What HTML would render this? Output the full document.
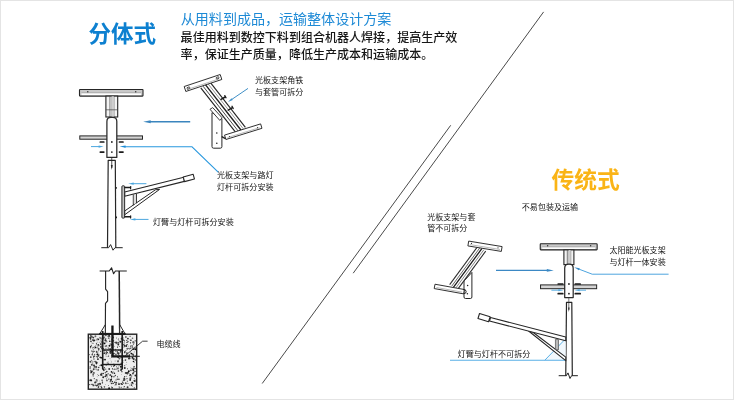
<!DOCTYPE html>
<html lang="zh">
<head>
<meta charset="utf-8">
<title>分体式 / 传统式</title>
<style>
html,body{margin:0;padding:0;background:#fff;}
body{width:734px;height:400px;overflow:hidden;position:relative;font-family:"Liberation Sans","Noto Sans CJK SC",sans-serif;}
#wrap{position:absolute;left:0;top:0;width:734px;height:400px;overflow:hidden;background:#fff;}
svg{position:absolute;left:0;top:0;display:block;}
svg text{font-family:"Liberation Sans","Noto Sans CJK SC",sans-serif;}
.t{position:absolute;white-space:nowrap;color:transparent;line-height:1.2;font-family:"Liberation Sans","Noto Sans CJK SC",sans-serif;pointer-events:none;}
</style>
</head>
<body>
<div id="wrap">
<div class="t" style="left:88.6px;top:20.4px;font-size:22.5px;font-weight:bold;">分体式</div><div class="t" style="left:180.8px;top:10.8px;font-size:14.04px;">从用料到成品，运输整体设计方案</div><div class="t" style="left:180.6px;top:30.5px;font-size:12.04px;">最佳用料到数控下料到组合机器人焊接，提高生产效</div><div class="t" style="left:180.6px;top:47.5px;font-size:12.04px;">率，保证生产质量，降低生产成本和运输成本。</div><div class="t" style="left:255.0px;top:75.7px;font-size:8.05px;">光板支架角铁</div><div class="t" style="left:255.0px;top:87.1px;font-size:8.05px;">与套管可拆分</div><div class="t" style="left:217.0px;top:170.0px;font-size:8.08px;">光板支架与路灯</div><div class="t" style="left:217.0px;top:181.8px;font-size:8.08px;">灯杆可拆分安装</div><div class="t" style="left:153.0px;top:217.2px;font-size:8.08px;">灯臂与灯杆可拆分安装</div><div class="t" style="left:156.4px;top:339.1px;font-size:8.1px;">电缆线</div><div class="t" style="left:551.6px;top:165.8px;font-size:22.7px;font-weight:bold;">传统式</div><div class="t" style="left:521.8px;top:202.7px;font-size:8.06px;">不易包装及运输</div><div class="t" style="left:427.2px;top:212.6px;font-size:8.05px;">光板支架与套</div><div class="t" style="left:427.2px;top:222.8px;font-size:8.05px;">管不可拆分</div><div class="t" style="left:609.4px;top:245.7px;font-size:8.06px;">太阳能光板支架</div><div class="t" style="left:609.4px;top:257.6px;font-size:8.06px;">与灯杆一体安装</div><div class="t" style="left:457.6px;top:349.0px;font-size:8.08px;">灯臂与灯杆不可拆分</div>
<svg width="734" height="400" viewBox="0 0 734 400">
<defs><filter id="soft" x="0" y="0" width="734" height="400" filterUnits="userSpaceOnUse"><feGaussianBlur stdDeviation="0.35"/></filter></defs>
<rect x="0" y="0" width="734" height="400" fill="#ffffff"/><rect x="0.5" y="0.5" width="733" height="399" fill="none" stroke="#e4e4e4" stroke-width="1"/>
<g filter="url(#soft)"><line x1="543.60" y1="11.90" x2="353.20" y2="273.20" stroke="#4a4a4a" stroke-width="1.0" stroke-linecap="butt"/><line x1="450.70" y1="125.30" x2="262.20" y2="383.50" stroke="#4a4a4a" stroke-width="1.0" stroke-linecap="butt"/><rect x="79.80" y="135.90" width="62.70" height="3.30" rx="0" fill="#d4d4d4" stroke="#262626" stroke-width="1.0"/><rect x="79.50" y="89.50" width="63.50" height="6.60" rx="0.6" fill="#c9c9c9" stroke="#262626" stroke-width="1.1"/><rect x="81.50" y="93.13" width="59.50" height="1.98" rx="0" fill="#ffffff" stroke="none" stroke-width="0"/><line x1="81.50" y1="92.80" x2="141.00" y2="92.80" stroke="#8a8a8a" stroke-width="0.5" stroke-linecap="butt"/><circle cx="87.75" cy="91.68" r="0.75" fill="#333"/><circle cx="135.70" cy="91.68" r="0.75" fill="#333"/><rect x="105.90" y="96.10" width="11.80" height="20.90" rx="0" fill="#f4f4f4" stroke="#262626" stroke-width="1.1"/><line x1="109.91" y1="96.10" x2="109.91" y2="117.00" stroke="#444" stroke-width="0.7" stroke-linecap="butt"/><line x1="111.80" y1="96.10" x2="111.80" y2="117.00" stroke="#777" stroke-width="0.6" stroke-linecap="butt"/><line x1="113.92" y1="96.10" x2="113.92" y2="117.00" stroke="#444" stroke-width="0.7" stroke-linecap="butt"/><rect x="111.80" y="96.30" width="2.12" height="20.50" rx="0" fill="#cfcfcf" stroke="none" stroke-width="0"/><line x1="105.90" y1="109.80" x2="117.70" y2="109.80" stroke="#444" stroke-width="0.7" stroke-linecap="butt"/><path d="M106.90 157.40 L106.90 121.40 Q106.90 117.40 110.90 117.40 L112.80 117.40 Q116.80 117.40 116.80 121.40 L116.80 157.40 Z" fill="#ffffff" stroke="#2a2a2a" stroke-width="1.25" stroke-linejoin="round"/><circle cx="111.85" cy="142.00" r="0.9" fill="#222"/><line x1="100.30" y1="142.00" x2="103.80" y2="142.00" stroke="#1e1e1e" stroke-width="1.7" stroke-linecap="round"/><line x1="119.50" y1="142.00" x2="123.00" y2="142.00" stroke="#1e1e1e" stroke-width="1.7" stroke-linecap="round"/><circle cx="111.85" cy="152.10" r="0.9" fill="#222"/><line x1="100.30" y1="152.10" x2="103.80" y2="152.10" stroke="#1e1e1e" stroke-width="1.7" stroke-linecap="round"/><line x1="119.50" y1="152.10" x2="123.00" y2="152.10" stroke="#1e1e1e" stroke-width="1.7" stroke-linecap="round"/><line x1="91.00" y1="146.60" x2="99.60" y2="146.60" stroke="#4aa6de" stroke-width="1.0" stroke-linecap="butt"/><polygon points="103.60,146.60 98.60,147.80 98.60,145.40" fill="#4aa6de"/><polyline points="124.00,146.70 191.80,146.70 218.20,172.20" fill="none" stroke="#2a98de" stroke-width="1.15" stroke-linejoin="round" stroke-linecap="butt"/><polygon points="119.60,146.60 125.60,145.40 125.60,147.80" fill="#1f8cd6"/><line x1="190.20" y1="121.80" x2="149.70" y2="121.80" stroke="#3a85be" stroke-width="1.4" stroke-linecap="butt"/><polygon points="143.20,121.80 150.70,120.30 150.70,123.30" fill="#3a85be"/><path d="M107.5 247.7 L108.2 160.3 L115.3 160.3 L115.8 247.7" fill="#ffffff" stroke="#262626" stroke-width="1.2" stroke-linejoin="round"/><line x1="111.75" y1="157.40" x2="111.75" y2="168.00" stroke="#222" stroke-width="0.8" stroke-linecap="butt"/><polygon points="111.75,170.00 110.80,165.00 112.70,165.00" fill="#222"/><polyline points="101.30,247.70 108.60,247.70 110.60,244.60 113.00,250.20 115.00,247.70 122.70,247.70" fill="none" stroke="#222" stroke-width="1.0" stroke-linejoin="round" stroke-linecap="butt"/><line x1="115.60" y1="187.80" x2="116.80" y2="187.80" stroke="#222" stroke-width="1.8" stroke-linecap="butt"/><line x1="115.80" y1="217.30" x2="117.00" y2="217.30" stroke="#222" stroke-width="1.8" stroke-linecap="butt"/><polygon points="124.65,211.00 155.40,189.80 159.60,189.40 124.65,214.80" fill="#ffffff" stroke="#262626" stroke-width="1.0" stroke-linejoin="round"/><line x1="133.30" y1="194.60" x2="133.30" y2="205.20" stroke="#262626" stroke-width="1.0" stroke-linecap="butt"/><line x1="136.40" y1="194.00" x2="136.40" y2="203.20" stroke="#262626" stroke-width="1.0" stroke-linecap="butt"/><rect x="133.80" y="194.60" width="2.10" height="9.00" rx="0" fill="#dddddd" stroke="none" stroke-width="0"/><polygon points="124.65,192.00 183.80,177.20 184.40,181.40 124.65,196.30" fill="#ffffff" stroke="#262626" stroke-width="1.1" stroke-linejoin="round"/><polygon points="184.47,181.62 194.42,178.97 193.18,174.33 183.23,176.98" fill="#ffffff" stroke="#262626" stroke-width="1.1" stroke-linejoin="round"/><rect x="121.90" y="185.80" width="2.75" height="32.30" rx="0.8" fill="#c4c4c4" stroke="#262626" stroke-width="1.0"/><line x1="125.00" y1="187.60" x2="130.40" y2="187.60" stroke="#1c1c1c" stroke-width="1.5" stroke-linecap="round"/><line x1="130.60" y1="186.60" x2="130.60" y2="188.80" stroke="#1c1c1c" stroke-width="1.2" stroke-linecap="round"/><line x1="125.00" y1="216.80" x2="130.40" y2="216.80" stroke="#1c1c1c" stroke-width="1.5" stroke-linecap="round"/><line x1="130.60" y1="215.80" x2="130.60" y2="218.00" stroke="#1c1c1c" stroke-width="1.2" stroke-linecap="round"/><line x1="146.40" y1="183.70" x2="132.70" y2="183.70" stroke="#4aa6de" stroke-width="1.0" stroke-linecap="butt"/><polygon points="128.20,183.70 133.70,182.55 133.70,184.85" fill="#4aa6de"/><line x1="148.50" y1="219.40" x2="134.40" y2="219.40" stroke="#4aa6de" stroke-width="1.0" stroke-linecap="butt"/><polygon points="129.90,219.40 135.40,218.25 135.40,220.55" fill="#4aa6de"/><path d="M212.0 112.6 L212.0 146.6 Q212.0 148.2 213.6 148.2 L220.3 148.2 Q221.9 148.2 221.9 146.6 L221.9 118.8 Z" fill="#ffffff" stroke="#262626" stroke-width="1.0" stroke-linejoin="round"/><circle cx="216.80" cy="133.00" r="0.8" fill="#222"/><circle cx="216.80" cy="143.30" r="0.8" fill="#222"/><polygon points="199.40,87.20 211.20,82.20 247.00,128.20 235.40,132.60" fill="#ffffff" stroke="none" stroke-width="0" stroke-linejoin="round"/><line x1="200.79" y1="87.85" x2="236.89" y2="133.95" stroke="#222" stroke-width="1.15" stroke-linecap="butt"/><line x1="203.00" y1="86.13" x2="239.10" y2="132.23" stroke="#333" stroke-width="0.9" stroke-linecap="butt"/><line x1="205.20" y1="84.40" x2="241.30" y2="130.50" stroke="#1c1c1c" stroke-width="1.35" stroke-linecap="butt"/><line x1="207.25" y1="82.80" x2="243.35" y2="128.90" stroke="#666" stroke-width="0.7" stroke-linecap="butt"/><line x1="209.29" y1="81.19" x2="245.39" y2="127.29" stroke="#222" stroke-width="1.1" stroke-linecap="butt"/><polygon points="210.00,109.30 212.70,107.60 222.20,117.90 219.80,120.40" fill="#ffffff" stroke="#262626" stroke-width="0.9" stroke-linejoin="round"/><line x1="221.00" y1="99.40" x2="225.20" y2="97.00" stroke="#1c1c1c" stroke-width="1.5" stroke-linecap="round"/><line x1="224.80" y1="95.60" x2="226.00" y2="97.80" stroke="#1c1c1c" stroke-width="1.3" stroke-linecap="round"/><line x1="228.20" y1="110.10" x2="232.40" y2="107.70" stroke="#1c1c1c" stroke-width="1.5" stroke-linecap="round"/><line x1="232.00" y1="106.30" x2="233.20" y2="108.50" stroke="#1c1c1c" stroke-width="1.3" stroke-linecap="round"/><polygon points="185.82,91.47 221.82,79.47 220.18,74.53 184.18,86.53" fill="#ffffff" stroke="#262626" stroke-width="0.95" stroke-linejoin="round"/><line x1="187.00" y1="89.60" x2="219.00" y2="78.90" stroke="#777" stroke-width="0.5" stroke-linecap="butt"/><ellipse cx="217.6" cy="77.9" rx="1.5" ry="0.9" transform="rotate(-18 217.6 77.9)" fill="#fff" stroke="#222" stroke-width="0.8"/><ellipse cx="188.4" cy="88.0" rx="1.5" ry="0.9" transform="rotate(-18 188.4 88.0)" fill="#fff" stroke="#222" stroke-width="0.8"/><polygon points="225.88,139.50 261.98,128.30 260.62,123.90 224.52,135.10" fill="#ffffff" stroke="#262626" stroke-width="0.95" stroke-linejoin="round"/><line x1="227.50" y1="137.60" x2="259.50" y2="127.70" stroke="#777" stroke-width="0.5" stroke-linecap="butt"/><circle cx="229.50" cy="136.60" r="0.6" fill="#333"/><circle cx="257.50" cy="127.60" r="0.6" fill="#333"/><line x1="222.20" y1="136.80" x2="225.00" y2="138.40" stroke="#222" stroke-width="1.4" stroke-linecap="round"/><line x1="248.00" y1="88.40" x2="231.31" y2="99.75" stroke="#3f8fc6" stroke-width="1.0" stroke-linecap="butt"/><polygon points="228.00,102.00 231.52,98.28 232.75,100.10" fill="#3f8fc6"/><polyline points="105.60,271.00 105.60,289.20 107.60,291.60 107.60,300.80 105.50,303.40 105.30,334.00" fill="none" stroke="#262626" stroke-width="1.15" stroke-linejoin="round" stroke-linecap="butt"/><line x1="119.20" y1="271.00" x2="119.70" y2="334.00" stroke="#262626" stroke-width="1.5" stroke-linecap="butt"/><polyline points="99.60,271.00 109.20,271.00 111.60,267.80 113.60,273.80 115.40,271.00 126.80,271.00" fill="none" stroke="#222" stroke-width="1.1" stroke-linejoin="round" stroke-linecap="butt"/><rect x="88.30" y="334.20" width="48.40" height="55.00" rx="0" fill="#eeeeee" stroke="#222" stroke-width="1.4"/><circle cx="104.4" cy="343.4" r="0.95" fill="#111"/><circle cx="92.7" cy="363.7" r="0.55" fill="#666"/><circle cx="92.1" cy="362.2" r="0.35" fill="#111"/><circle cx="109.4" cy="339.1" r="0.35" fill="#666"/><circle cx="109.0" cy="379.1" r="0.35" fill="#222"/><circle cx="118.5" cy="366.2" r="0.35" fill="#666"/><circle cx="116.5" cy="338.0" r="0.45" fill="#111"/><circle cx="115.1" cy="342.4" r="0.65" fill="#222"/><circle cx="114.4" cy="365.5" r="0.8" fill="#222"/><circle cx="94.2" cy="365.6" r="0.45" fill="#333"/><circle cx="93.9" cy="373.0" r="0.8" fill="#111"/><circle cx="118.0" cy="361.6" r="0.8" fill="#444"/><circle cx="125.3" cy="360.0" r="0.65" fill="#333"/><circle cx="103.2" cy="377.3" r="0.95" fill="#222"/><circle cx="93.2" cy="351.3" r="0.65" fill="#333"/><circle cx="123.1" cy="350.6" r="0.35" fill="#111"/><circle cx="113.1" cy="344.1" r="0.55" fill="#222"/><circle cx="132.5" cy="357.7" r="0.95" fill="#111"/><circle cx="124.7" cy="365.7" r="0.55" fill="#333"/><circle cx="121.5" cy="366.8" r="0.8" fill="#444"/><circle cx="92.6" cy="340.3" r="0.55" fill="#444"/><circle cx="121.6" cy="338.8" r="0.95" fill="#333"/><circle cx="119.3" cy="387.8" r="0.65" fill="#333"/><circle cx="122.5" cy="382.2" r="0.55" fill="#111"/><circle cx="132.9" cy="354.2" r="0.8" fill="#111"/><circle cx="112.2" cy="346.9" r="0.55" fill="#222"/><circle cx="123.5" cy="356.4" r="0.65" fill="#111"/><circle cx="97.1" cy="356.6" r="0.55" fill="#222"/><circle cx="127.3" cy="381.0" r="0.55" fill="#444"/><circle cx="135.0" cy="371.4" r="0.65" fill="#222"/><circle cx="96.4" cy="344.7" r="0.45" fill="#222"/><circle cx="90.0" cy="379.3" r="0.45" fill="#333"/><circle cx="102.4" cy="343.1" r="0.8" fill="#333"/><circle cx="117.6" cy="352.2" r="0.45" fill="#666"/><circle cx="133.3" cy="370.0" r="0.95" fill="#111"/><circle cx="110.5" cy="381.4" r="0.95" fill="#666"/><circle cx="107.5" cy="356.5" r="0.35" fill="#444"/><circle cx="118.7" cy="338.7" r="0.35" fill="#222"/><circle cx="109.8" cy="341.2" r="0.8" fill="#111"/><circle cx="94.1" cy="365.3" r="0.8" fill="#111"/><circle cx="133.2" cy="367.8" r="0.35" fill="#222"/><circle cx="117.8" cy="343.2" r="0.55" fill="#333"/><circle cx="117.2" cy="360.4" r="0.35" fill="#444"/><circle cx="135.3" cy="360.0" r="0.65" fill="#333"/><circle cx="93.4" cy="340.8" r="0.55" fill="#333"/><circle cx="111.5" cy="371.9" r="0.8" fill="#111"/><circle cx="98.9" cy="385.7" r="0.55" fill="#222"/><circle cx="121.3" cy="383.7" r="0.8" fill="#333"/><circle cx="134.6" cy="381.0" r="0.95" fill="#333"/><circle cx="113.3" cy="383.4" r="0.55" fill="#222"/><circle cx="114.0" cy="376.5" r="0.55" fill="#222"/><circle cx="117.7" cy="377.0" r="0.45" fill="#222"/><circle cx="127.2" cy="374.5" r="0.45" fill="#222"/><circle cx="113.3" cy="354.2" r="0.35" fill="#111"/><circle cx="125.9" cy="360.3" r="0.45" fill="#666"/><circle cx="133.6" cy="359.0" r="0.95" fill="#333"/><circle cx="133.5" cy="354.7" r="0.45" fill="#111"/><circle cx="99.9" cy="345.8" r="0.45" fill="#444"/><circle cx="118.2" cy="382.9" r="0.35" fill="#444"/><circle cx="131.4" cy="353.6" r="0.95" fill="#111"/><circle cx="128.0" cy="341.7" r="0.65" fill="#222"/><circle cx="111.5" cy="344.8" r="0.95" fill="#333"/><circle cx="93.4" cy="385.4" r="0.95" fill="#444"/><circle cx="110.8" cy="374.6" r="0.35" fill="#222"/><circle cx="97.3" cy="342.1" r="0.45" fill="#666"/><circle cx="131.2" cy="378.0" r="0.45" fill="#666"/><circle cx="127.6" cy="387.2" r="0.95" fill="#333"/><circle cx="96.6" cy="364.3" r="0.35" fill="#111"/><circle cx="126.3" cy="373.8" r="0.35" fill="#666"/><circle cx="124.0" cy="342.8" r="0.45" fill="#222"/><circle cx="90.7" cy="346.6" r="0.8" fill="#222"/><circle cx="124.7" cy="352.6" r="0.8" fill="#444"/><circle cx="127.9" cy="338.6" r="0.95" fill="#333"/><circle cx="130.9" cy="370.4" r="0.8" fill="#444"/><circle cx="127.6" cy="381.8" r="0.45" fill="#666"/><circle cx="96.4" cy="362.4" r="0.65" fill="#222"/><circle cx="117.5" cy="376.4" r="0.45" fill="#222"/><circle cx="95.9" cy="368.1" r="0.35" fill="#666"/><circle cx="92.3" cy="371.4" r="0.8" fill="#666"/><circle cx="111.7" cy="376.4" r="0.8" fill="#111"/><circle cx="100.9" cy="350.0" r="0.35" fill="#666"/><circle cx="110.3" cy="336.9" r="0.35" fill="#444"/><circle cx="104.4" cy="386.8" r="0.8" fill="#666"/><circle cx="98.6" cy="350.0" r="0.8" fill="#666"/><circle cx="126.7" cy="362.2" r="0.45" fill="#666"/><circle cx="129.9" cy="385.1" r="0.55" fill="#666"/><circle cx="130.6" cy="346.1" r="0.65" fill="#222"/><circle cx="108.6" cy="356.1" r="0.55" fill="#111"/><circle cx="120.4" cy="358.0" r="0.45" fill="#333"/><circle cx="125.6" cy="382.8" r="0.45" fill="#333"/><circle cx="96.0" cy="382.0" r="0.65" fill="#222"/><circle cx="123.9" cy="340.4" r="0.65" fill="#222"/><circle cx="135.1" cy="379.4" r="0.45" fill="#444"/><circle cx="135.3" cy="356.7" r="0.65" fill="#222"/><circle cx="105.9" cy="340.3" r="0.55" fill="#111"/><circle cx="105.0" cy="359.6" r="0.95" fill="#111"/><circle cx="107.2" cy="362.7" r="0.55" fill="#666"/><circle cx="133.8" cy="341.4" r="0.45" fill="#111"/><circle cx="93.3" cy="349.8" r="0.45" fill="#333"/><circle cx="124.3" cy="378.7" r="0.95" fill="#333"/><circle cx="108.2" cy="363.7" r="0.8" fill="#666"/><circle cx="112.3" cy="352.7" r="0.55" fill="#111"/><circle cx="126.3" cy="345.1" r="0.35" fill="#333"/><circle cx="132.8" cy="368.9" r="0.55" fill="#111"/><circle cx="117.5" cy="347.1" r="0.55" fill="#111"/><circle cx="110.4" cy="353.3" r="0.8" fill="#444"/><circle cx="132.2" cy="349.5" r="0.45" fill="#111"/><circle cx="113.7" cy="348.0" r="0.35" fill="#222"/><circle cx="101.5" cy="345.0" r="0.55" fill="#333"/><circle cx="113.9" cy="346.3" r="0.65" fill="#666"/><circle cx="120.5" cy="349.7" r="0.35" fill="#333"/><circle cx="91.1" cy="336.4" r="0.8" fill="#666"/><circle cx="134.6" cy="362.6" r="0.45" fill="#444"/><circle cx="94.3" cy="378.6" r="0.65" fill="#444"/><circle cx="114.6" cy="382.3" r="0.8" fill="#333"/><circle cx="121.2" cy="387.3" r="0.55" fill="#222"/><circle cx="127.9" cy="372.7" r="0.95" fill="#222"/><circle cx="108.1" cy="353.8" r="0.35" fill="#222"/><circle cx="90.1" cy="368.4" r="0.55" fill="#444"/><circle cx="96.9" cy="339.9" r="0.65" fill="#666"/><circle cx="120.4" cy="350.3" r="0.45" fill="#333"/><circle cx="91.5" cy="345.2" r="0.55" fill="#444"/><circle cx="89.6" cy="354.6" r="0.55" fill="#666"/><circle cx="104.3" cy="337.2" r="0.55" fill="#222"/><circle cx="105.9" cy="335.5" r="0.65" fill="#111"/><circle cx="111.3" cy="361.9" r="0.45" fill="#222"/><circle cx="112.7" cy="335.7" r="0.55" fill="#111"/><circle cx="96.0" cy="366.4" r="0.65" fill="#111"/><circle cx="103.2" cy="368.6" r="0.35" fill="#666"/><circle cx="133.6" cy="380.5" r="0.45" fill="#666"/><circle cx="107.4" cy="352.6" r="0.65" fill="#222"/><circle cx="102.5" cy="368.1" r="0.45" fill="#111"/><circle cx="127.5" cy="373.2" r="0.8" fill="#444"/><circle cx="123.3" cy="378.3" r="0.45" fill="#666"/><circle cx="124.2" cy="365.4" r="0.35" fill="#666"/><circle cx="126.3" cy="373.0" r="0.95" fill="#222"/><circle cx="93.3" cy="337.6" r="0.95" fill="#333"/><circle cx="133.7" cy="355.3" r="0.65" fill="#666"/><circle cx="91.7" cy="336.4" r="0.8" fill="#222"/><circle cx="112.0" cy="335.6" r="0.35" fill="#666"/><circle cx="130.9" cy="340.3" r="0.8" fill="#111"/><circle cx="123.9" cy="360.4" r="0.35" fill="#333"/><circle cx="100.2" cy="375.3" r="0.45" fill="#444"/><circle cx="112.2" cy="355.6" r="0.65" fill="#333"/><circle cx="124.8" cy="368.0" r="0.95" fill="#222"/><circle cx="93.0" cy="343.2" r="0.55" fill="#333"/><circle cx="118.1" cy="342.4" r="0.65" fill="#111"/><circle cx="111.8" cy="386.7" r="0.35" fill="#222"/><circle cx="120.6" cy="350.8" r="0.8" fill="#333"/><circle cx="110.9" cy="360.0" r="0.35" fill="#666"/><circle cx="98.6" cy="387.0" r="0.65" fill="#111"/><circle cx="102.8" cy="339.4" r="0.8" fill="#444"/><circle cx="135.3" cy="355.8" r="0.45" fill="#111"/><circle cx="116.3" cy="342.9" r="0.8" fill="#333"/><circle cx="133.4" cy="342.4" r="0.95" fill="#666"/><circle cx="102.3" cy="341.3" r="0.55" fill="#222"/><circle cx="112.4" cy="381.7" r="0.65" fill="#111"/><circle cx="96.7" cy="385.6" r="0.95" fill="#444"/><circle cx="108.1" cy="373.8" r="0.65" fill="#333"/><circle cx="106.8" cy="341.8" r="0.55" fill="#111"/><circle cx="104.4" cy="353.3" r="0.65" fill="#111"/><circle cx="132.8" cy="345.7" r="0.35" fill="#333"/><circle cx="101.1" cy="338.8" r="0.65" fill="#666"/><circle cx="92.9" cy="384.3" r="0.55" fill="#111"/><circle cx="102.4" cy="338.1" r="0.95" fill="#333"/><circle cx="118.7" cy="343.3" r="0.55" fill="#444"/><circle cx="113.0" cy="345.4" r="0.55" fill="#444"/><circle cx="130.3" cy="378.3" r="0.95" fill="#444"/><circle cx="131.6" cy="385.1" r="0.8" fill="#222"/><circle cx="122.6" cy="338.0" r="0.95" fill="#444"/><circle cx="110.2" cy="375.1" r="0.95" fill="#333"/><circle cx="111.8" cy="383.5" r="0.8" fill="#222"/><circle cx="97.3" cy="357.3" r="0.55" fill="#333"/><circle cx="101.2" cy="374.4" r="0.95" fill="#333"/><circle cx="108.2" cy="348.0" r="0.65" fill="#666"/><circle cx="120.3" cy="341.7" r="0.95" fill="#222"/><circle cx="92.9" cy="361.8" r="0.65" fill="#666"/><circle cx="99.6" cy="383.3" r="0.65" fill="#444"/><circle cx="95.8" cy="345.6" r="0.35" fill="#222"/><circle cx="105.2" cy="340.2" r="0.45" fill="#333"/><circle cx="101.3" cy="365.5" r="0.35" fill="#444"/><circle cx="107.1" cy="374.8" r="0.45" fill="#444"/><circle cx="101.9" cy="375.1" r="0.65" fill="#333"/><circle cx="115.9" cy="354.4" r="0.95" fill="#666"/><circle cx="113.9" cy="377.1" r="0.45" fill="#111"/><circle cx="101.9" cy="348.5" r="0.65" fill="#444"/><circle cx="109.4" cy="351.9" r="0.35" fill="#222"/><circle cx="90.9" cy="372.9" r="0.65" fill="#666"/><circle cx="112.0" cy="339.3" r="0.8" fill="#444"/><circle cx="134.3" cy="348.5" r="0.35" fill="#222"/><circle cx="96.5" cy="363.0" r="0.95" fill="#111"/><circle cx="132.9" cy="373.5" r="0.95" fill="#444"/><circle cx="93.3" cy="376.4" r="0.35" fill="#222"/><circle cx="100.1" cy="384.0" r="0.95" fill="#333"/><circle cx="133.9" cy="368.5" r="0.8" fill="#444"/><circle cx="121.7" cy="341.3" r="0.35" fill="#333"/><circle cx="113.6" cy="366.2" r="0.65" fill="#333"/><circle cx="99.7" cy="367.1" r="0.35" fill="#666"/><circle cx="103.3" cy="359.7" r="0.55" fill="#222"/><circle cx="111.4" cy="347.8" r="0.45" fill="#111"/><circle cx="133.8" cy="372.6" r="0.55" fill="#111"/><circle cx="90.4" cy="361.7" r="0.95" fill="#444"/><circle cx="93.1" cy="347.4" r="0.65" fill="#333"/><circle cx="99.9" cy="337.2" r="0.55" fill="#444"/><circle cx="106.1" cy="356.3" r="0.35" fill="#333"/><circle cx="123.5" cy="362.1" r="0.45" fill="#444"/><circle cx="134.2" cy="351.9" r="0.45" fill="#222"/><circle cx="110.9" cy="349.4" r="0.55" fill="#111"/><circle cx="133.4" cy="361.6" r="0.45" fill="#222"/><circle cx="111.8" cy="383.5" r="0.35" fill="#666"/><circle cx="96.2" cy="356.2" r="0.45" fill="#111"/><circle cx="134.4" cy="342.9" r="0.35" fill="#111"/><circle cx="97.9" cy="359.1" r="0.95" fill="#333"/><circle cx="123.3" cy="388.1" r="0.45" fill="#333"/><circle cx="98.2" cy="369.9" r="0.8" fill="#444"/><circle cx="90.9" cy="370.5" r="0.65" fill="#333"/><circle cx="134.9" cy="358.8" r="0.35" fill="#111"/><circle cx="93.0" cy="339.7" r="0.65" fill="#111"/><circle cx="115.3" cy="375.5" r="0.65" fill="#333"/><circle cx="124.9" cy="351.7" r="0.65" fill="#111"/><circle cx="91.7" cy="360.4" r="0.55" fill="#666"/><circle cx="131.9" cy="345.6" r="0.55" fill="#444"/><circle cx="90.8" cy="357.1" r="0.95" fill="#444"/><circle cx="91.3" cy="337.2" r="0.35" fill="#111"/><circle cx="101.3" cy="374.9" r="0.8" fill="#333"/><circle cx="106.2" cy="353.1" r="0.8" fill="#111"/><circle cx="101.5" cy="373.2" r="0.55" fill="#333"/><circle cx="103.1" cy="373.5" r="0.8" fill="#111"/><circle cx="90.5" cy="347.7" r="0.65" fill="#444"/><circle cx="133.5" cy="355.8" r="0.55" fill="#444"/><circle cx="127.0" cy="342.4" r="0.65" fill="#222"/><circle cx="89.8" cy="384.6" r="0.55" fill="#222"/><circle cx="117.5" cy="352.7" r="0.55" fill="#444"/><circle cx="106.1" cy="376.7" r="0.35" fill="#666"/><circle cx="98.5" cy="375.2" r="0.45" fill="#444"/><circle cx="92.4" cy="337.2" r="0.8" fill="#666"/><circle cx="104.5" cy="387.2" r="0.35" fill="#111"/><circle cx="101.6" cy="339.8" r="0.35" fill="#444"/><circle cx="112.4" cy="372.9" r="0.65" fill="#222"/><circle cx="100.2" cy="357.4" r="0.8" fill="#222"/><circle cx="124.0" cy="380.1" r="0.95" fill="#111"/><circle cx="125.4" cy="350.9" r="0.55" fill="#666"/><circle cx="101.8" cy="348.8" r="0.55" fill="#222"/><circle cx="109.7" cy="345.2" r="0.45" fill="#222"/><circle cx="102.4" cy="383.3" r="0.45" fill="#333"/><circle cx="92.4" cy="348.7" r="0.45" fill="#666"/><circle cx="113.7" cy="369.7" r="0.35" fill="#444"/><circle cx="135.2" cy="340.8" r="0.65" fill="#222"/><circle cx="128.2" cy="383.7" r="0.35" fill="#333"/><circle cx="100.2" cy="338.1" r="0.8" fill="#666"/><circle cx="98.4" cy="339.4" r="0.8" fill="#222"/><circle cx="110.1" cy="349.1" r="0.95" fill="#111"/><circle cx="94.3" cy="366.9" r="0.8" fill="#333"/><circle cx="99.5" cy="354.9" r="0.45" fill="#111"/><circle cx="98.8" cy="348.9" r="0.8" fill="#222"/><circle cx="127.0" cy="378.6" r="0.65" fill="#333"/><circle cx="98.0" cy="351.9" r="0.45" fill="#111"/><circle cx="126.1" cy="364.3" r="0.35" fill="#444"/><circle cx="94.1" cy="356.3" r="0.8" fill="#222"/><circle cx="118.9" cy="340.2" r="0.45" fill="#444"/><circle cx="121.5" cy="357.0" r="0.55" fill="#333"/><circle cx="108.7" cy="338.1" r="0.95" fill="#666"/><circle cx="130.2" cy="357.3" r="0.35" fill="#333"/><circle cx="119.2" cy="356.0" r="0.65" fill="#222"/><circle cx="132.9" cy="358.3" r="0.45" fill="#444"/><circle cx="94.6" cy="340.2" r="0.8" fill="#333"/><circle cx="110.7" cy="344.0" r="0.35" fill="#111"/><circle cx="114.9" cy="369.2" r="0.65" fill="#111"/><circle cx="115.9" cy="384.4" r="0.95" fill="#666"/><circle cx="97.3" cy="353.8" r="0.45" fill="#666"/><circle cx="97.3" cy="338.9" r="0.65" fill="#444"/><circle cx="124.2" cy="377.2" r="0.45" fill="#333"/><circle cx="95.3" cy="385.2" r="0.65" fill="#333"/><circle cx="91.9" cy="384.3" r="0.65" fill="#111"/><circle cx="131.2" cy="368.2" r="0.45" fill="#222"/><circle cx="118.1" cy="367.9" r="0.45" fill="#444"/><circle cx="97.9" cy="346.9" r="0.65" fill="#666"/><circle cx="96.6" cy="354.4" r="0.45" fill="#222"/><circle cx="134.2" cy="378.5" r="0.45" fill="#111"/><circle cx="130.2" cy="379.9" r="0.95" fill="#111"/><circle cx="120.3" cy="352.5" r="0.65" fill="#666"/><circle cx="110.5" cy="380.2" r="0.55" fill="#444"/><circle cx="103.6" cy="348.6" r="0.65" fill="#333"/><circle cx="110.0" cy="358.5" r="0.35" fill="#111"/><circle cx="118.0" cy="361.2" r="0.45" fill="#444"/><circle cx="124.7" cy="376.6" r="0.65" fill="#222"/><circle cx="126.8" cy="356.5" r="0.35" fill="#222"/><circle cx="106.0" cy="354.7" r="0.65" fill="#666"/><circle cx="113.0" cy="337.6" r="0.95" fill="#222"/><circle cx="93.2" cy="374.1" r="0.95" fill="#666"/><circle cx="93.1" cy="375.1" r="0.65" fill="#222"/><circle cx="90.6" cy="338.9" r="0.8" fill="#111"/><circle cx="98.3" cy="387.2" r="0.65" fill="#333"/><circle cx="133.6" cy="383.8" r="0.45" fill="#222"/><circle cx="92.4" cy="353.9" r="0.55" fill="#222"/><circle cx="104.4" cy="367.8" r="0.65" fill="#222"/><circle cx="101.1" cy="386.3" r="0.65" fill="#222"/><circle cx="116.7" cy="367.9" r="0.45" fill="#333"/><circle cx="106.6" cy="345.9" r="0.65" fill="#222"/><circle cx="118.8" cy="350.1" r="0.55" fill="#444"/><circle cx="97.2" cy="376.8" r="0.35" fill="#666"/><circle cx="91.6" cy="380.7" r="0.65" fill="#666"/><circle cx="113.5" cy="371.8" r="0.35" fill="#333"/><circle cx="135.3" cy="368.7" r="0.65" fill="#333"/><circle cx="101.6" cy="387.7" r="0.8" fill="#222"/><circle cx="106.0" cy="375.8" r="0.65" fill="#222"/><circle cx="97.6" cy="374.7" r="0.35" fill="#333"/><circle cx="127.3" cy="348.8" r="0.95" fill="#666"/><circle cx="132.3" cy="382.7" r="0.95" fill="#111"/><circle cx="123.9" cy="347.1" r="0.55" fill="#666"/><circle cx="118.3" cy="357.5" r="0.55" fill="#111"/><circle cx="95.5" cy="347.4" r="0.95" fill="#111"/><circle cx="90.4" cy="335.5" r="0.55" fill="#333"/><circle cx="94.3" cy="354.3" r="0.45" fill="#444"/><circle cx="116.4" cy="366.5" r="0.45" fill="#333"/><circle cx="118.2" cy="360.5" r="0.45" fill="#111"/><circle cx="132.7" cy="348.3" r="0.45" fill="#444"/><circle cx="93.8" cy="369.1" r="0.95" fill="#333"/><circle cx="108.0" cy="349.4" r="0.35" fill="#111"/><circle cx="119.2" cy="365.1" r="0.55" fill="#666"/><circle cx="119.2" cy="358.8" r="0.8" fill="#444"/><circle cx="100.9" cy="383.1" r="0.35" fill="#111"/><circle cx="114.0" cy="356.8" r="0.45" fill="#222"/><circle cx="92.1" cy="376.5" r="0.35" fill="#666"/><circle cx="114.9" cy="385.1" r="0.45" fill="#444"/><circle cx="98.6" cy="367.5" r="0.8" fill="#444"/><circle cx="127.0" cy="344.6" r="0.55" fill="#111"/><circle cx="103.3" cy="338.0" r="0.95" fill="#444"/><circle cx="122.5" cy="335.7" r="0.65" fill="#444"/><circle cx="93.1" cy="370.0" r="0.45" fill="#222"/><circle cx="135.4" cy="349.2" r="0.95" fill="#111"/><circle cx="95.1" cy="382.5" r="0.95" fill="#333"/><circle cx="122.3" cy="349.4" r="0.8" fill="#444"/><circle cx="121.1" cy="383.8" r="0.55" fill="#333"/><circle cx="119.1" cy="386.4" r="0.45" fill="#111"/><circle cx="130.1" cy="336.2" r="0.55" fill="#222"/><circle cx="128.3" cy="346.1" r="0.45" fill="#333"/><circle cx="98.3" cy="355.9" r="0.8" fill="#222"/><circle cx="106.9" cy="380.4" r="0.95" fill="#666"/><circle cx="111.1" cy="379.7" r="0.95" fill="#111"/><circle cx="129.0" cy="358.5" r="0.95" fill="#222"/><circle cx="115.7" cy="351.6" r="0.45" fill="#444"/><circle cx="118.2" cy="339.5" r="0.45" fill="#222"/><circle cx="90.9" cy="341.3" r="0.8" fill="#222"/><circle cx="105.3" cy="342.9" r="0.35" fill="#111"/><circle cx="91.3" cy="372.0" r="0.95" fill="#111"/><circle cx="121.6" cy="374.3" r="0.35" fill="#666"/><circle cx="124.6" cy="345.9" r="0.8" fill="#111"/><circle cx="130.0" cy="375.3" r="0.95" fill="#444"/><circle cx="94.3" cy="346.3" r="0.35" fill="#111"/><circle cx="91.0" cy="380.2" r="0.95" fill="#111"/><circle cx="127.5" cy="368.7" r="0.55" fill="#444"/><circle cx="94.0" cy="340.6" r="0.95" fill="#222"/><circle cx="103.0" cy="353.2" r="0.55" fill="#111"/><circle cx="105.6" cy="384.5" r="0.35" fill="#333"/><circle cx="131.5" cy="376.0" r="0.8" fill="#666"/><circle cx="111.4" cy="350.6" r="0.95" fill="#111"/><circle cx="125.9" cy="337.0" r="0.8" fill="#111"/><circle cx="105.4" cy="372.6" r="0.8" fill="#666"/><circle cx="99.4" cy="380.9" r="0.35" fill="#666"/><circle cx="127.3" cy="344.4" r="0.35" fill="#666"/><circle cx="98.7" cy="375.6" r="0.35" fill="#111"/><circle cx="105.5" cy="340.5" r="0.95" fill="#222"/><circle cx="134.1" cy="366.7" r="0.8" fill="#333"/><circle cx="116.1" cy="343.8" r="0.45" fill="#222"/><circle cx="112.4" cy="341.2" r="0.95" fill="#111"/><circle cx="112.1" cy="387.7" r="0.8" fill="#111"/><circle cx="118.4" cy="354.2" r="0.65" fill="#444"/><circle cx="130.6" cy="374.7" r="0.65" fill="#111"/><circle cx="106.6" cy="351.4" r="0.65" fill="#666"/><circle cx="112.6" cy="355.4" r="0.95" fill="#222"/><circle cx="133.0" cy="342.1" r="0.8" fill="#666"/><circle cx="119.3" cy="353.8" r="0.55" fill="#666"/><circle cx="96.6" cy="379.9" r="0.95" fill="#666"/><circle cx="123.7" cy="344.4" r="0.65" fill="#333"/><circle cx="116.2" cy="342.1" r="0.65" fill="#222"/><circle cx="112.9" cy="349.5" r="0.95" fill="#666"/><circle cx="96.5" cy="343.6" r="0.45" fill="#333"/><circle cx="117.3" cy="353.8" r="0.45" fill="#333"/><circle cx="133.6" cy="349.1" r="0.95" fill="#111"/><circle cx="97.0" cy="370.1" r="0.45" fill="#444"/><circle cx="96.4" cy="343.2" r="0.55" fill="#333"/><circle cx="109.5" cy="345.8" r="0.95" fill="#111"/><circle cx="102.4" cy="382.1" r="0.65" fill="#111"/><circle cx="90.0" cy="380.5" r="0.65" fill="#222"/><circle cx="112.5" cy="368.8" r="0.65" fill="#111"/><circle cx="96.0" cy="367.3" r="0.65" fill="#111"/><circle cx="123.6" cy="383.3" r="0.65" fill="#666"/><circle cx="116.5" cy="369.6" r="0.45" fill="#666"/><circle cx="128.8" cy="371.3" r="0.95" fill="#111"/><circle cx="110.4" cy="351.9" r="0.95" fill="#111"/><circle cx="130.7" cy="348.2" r="0.65" fill="#222"/><circle cx="101.0" cy="357.8" r="0.65" fill="#111"/><circle cx="118.1" cy="357.0" r="0.95" fill="#222"/><circle cx="130.7" cy="352.7" r="0.35" fill="#444"/><circle cx="127.8" cy="383.4" r="0.35" fill="#111"/><circle cx="101.0" cy="346.9" r="0.95" fill="#222"/><circle cx="113.4" cy="340.7" r="0.8" fill="#444"/><circle cx="114.4" cy="373.3" r="0.8" fill="#111"/><circle cx="118.9" cy="379.2" r="0.8" fill="#333"/><circle cx="108.4" cy="385.5" r="0.45" fill="#222"/><circle cx="107.5" cy="375.7" r="0.35" fill="#666"/><circle cx="105.8" cy="338.4" r="0.55" fill="#444"/><circle cx="107.9" cy="336.1" r="0.65" fill="#444"/><circle cx="118.4" cy="371.0" r="0.8" fill="#333"/><circle cx="94.4" cy="351.4" r="0.65" fill="#666"/><circle cx="134.3" cy="387.9" r="0.65" fill="#444"/><circle cx="99.2" cy="342.2" r="0.35" fill="#222"/><circle cx="111.1" cy="365.1" r="0.45" fill="#222"/><circle cx="105.7" cy="369.1" r="0.65" fill="#444"/><circle cx="135.4" cy="375.5" r="0.95" fill="#222"/><circle cx="125.4" cy="360.2" r="0.45" fill="#333"/><circle cx="121.9" cy="371.7" r="0.65" fill="#222"/><circle cx="111.6" cy="377.9" r="0.55" fill="#333"/><circle cx="100.7" cy="351.3" r="0.65" fill="#444"/><circle cx="109.2" cy="369.0" r="0.95" fill="#333"/><circle cx="96.5" cy="351.4" r="0.65" fill="#111"/><circle cx="93.3" cy="365.2" r="0.55" fill="#222"/><circle cx="113.9" cy="353.6" r="0.8" fill="#111"/><circle cx="119.8" cy="346.5" r="0.35" fill="#333"/><circle cx="101.0" cy="340.8" r="0.45" fill="#222"/><circle cx="98.0" cy="359.3" r="0.45" fill="#222"/><circle cx="131.2" cy="377.2" r="0.45" fill="#666"/><circle cx="130.6" cy="367.5" r="0.35" fill="#666"/><circle cx="125.8" cy="379.7" r="0.45" fill="#444"/><circle cx="121.4" cy="363.4" r="0.95" fill="#444"/><circle cx="120.4" cy="341.6" r="0.35" fill="#333"/><circle cx="108.8" cy="379.1" r="0.65" fill="#444"/><circle cx="115.1" cy="361.0" r="0.45" fill="#444"/><circle cx="100.8" cy="344.1" r="0.8" fill="#111"/><circle cx="96.8" cy="352.3" r="0.95" fill="#666"/><circle cx="112.4" cy="351.1" r="0.65" fill="#333"/><circle cx="109.1" cy="388.2" r="0.95" fill="#111"/><circle cx="97.7" cy="354.4" r="0.95" fill="#111"/><circle cx="90.3" cy="337.8" r="0.95" fill="#333"/><circle cx="126.8" cy="340.4" r="0.65" fill="#444"/><circle cx="124.4" cy="343.0" r="0.45" fill="#444"/><circle cx="118.3" cy="353.3" r="0.95" fill="#333"/><circle cx="105.2" cy="376.5" r="0.8" fill="#222"/><circle cx="102.5" cy="353.5" r="0.55" fill="#666"/><circle cx="91.8" cy="350.7" r="0.55" fill="#444"/><circle cx="108.1" cy="362.0" r="0.55" fill="#666"/><circle cx="105.3" cy="346.1" r="0.65" fill="#111"/><circle cx="104.7" cy="352.1" r="0.55" fill="#222"/><circle cx="116.5" cy="368.9" r="0.35" fill="#444"/><circle cx="122.8" cy="382.2" r="0.8" fill="#666"/><circle cx="91.7" cy="351.3" r="0.35" fill="#111"/><circle cx="98.2" cy="384.1" r="0.8" fill="#111"/><circle cx="125.9" cy="383.4" r="0.8" fill="#444"/><circle cx="117.9" cy="368.5" r="0.95" fill="#666"/><circle cx="129.9" cy="339.8" r="0.35" fill="#444"/><circle cx="118.3" cy="344.6" r="0.95" fill="#222"/><circle cx="129.6" cy="357.7" r="0.35" fill="#111"/><circle cx="106.4" cy="378.8" r="0.55" fill="#666"/><circle cx="122.2" cy="380.9" r="0.45" fill="#444"/><circle cx="91.0" cy="336.5" r="0.8" fill="#666"/><circle cx="132.5" cy="338.3" r="0.8" fill="#666"/><circle cx="91.2" cy="341.7" r="0.65" fill="#666"/><circle cx="121.5" cy="356.8" r="0.35" fill="#111"/><circle cx="120.8" cy="366.8" r="0.95" fill="#222"/><circle cx="111.4" cy="357.2" r="0.35" fill="#111"/><circle cx="119.2" cy="346.6" r="0.45" fill="#111"/><circle cx="109.1" cy="335.9" r="0.95" fill="#111"/><circle cx="135.0" cy="380.7" r="0.45" fill="#111"/><circle cx="95.4" cy="336.3" r="0.95" fill="#666"/><circle cx="100.6" cy="374.1" r="0.45" fill="#111"/><circle cx="106.3" cy="374.9" r="0.95" fill="#222"/><circle cx="123.1" cy="339.9" r="0.95" fill="#666"/><circle cx="122.2" cy="359.7" r="0.55" fill="#111"/><circle cx="122.5" cy="336.0" r="0.35" fill="#666"/><circle cx="93.1" cy="351.8" r="0.95" fill="#666"/><circle cx="97.1" cy="380.9" r="0.65" fill="#666"/><circle cx="92.2" cy="354.8" r="0.8" fill="#444"/><circle cx="111.1" cy="344.2" r="0.35" fill="#333"/><circle cx="133.5" cy="344.1" r="0.65" fill="#444"/><circle cx="107.2" cy="376.9" r="0.55" fill="#666"/><circle cx="104.8" cy="350.2" r="0.8" fill="#666"/><circle cx="104.7" cy="367.4" r="0.35" fill="#222"/><circle cx="117.2" cy="351.7" r="0.65" fill="#222"/><circle cx="106.8" cy="371.6" r="0.8" fill="#222"/><circle cx="126.7" cy="350.4" r="0.35" fill="#333"/><circle cx="101.6" cy="357.7" r="0.8" fill="#111"/><circle cx="102.7" cy="342.8" r="0.8" fill="#222"/><circle cx="102.1" cy="380.3" r="0.8" fill="#444"/><circle cx="105.4" cy="339.9" r="0.8" fill="#444"/><circle cx="126.2" cy="346.0" r="0.95" fill="#222"/><circle cx="103.7" cy="338.4" r="0.65" fill="#444"/><circle cx="122.1" cy="384.3" r="0.8" fill="#111"/><circle cx="126.0" cy="359.7" r="0.35" fill="#666"/><circle cx="126.7" cy="376.2" r="0.45" fill="#444"/><circle cx="116.2" cy="382.8" r="0.8" fill="#333"/><circle cx="111.4" cy="366.5" r="0.45" fill="#222"/><circle cx="98.3" cy="344.9" r="0.95" fill="#333"/><circle cx="106.2" cy="365.2" r="0.65" fill="#666"/><circle cx="129.0" cy="348.4" r="0.65" fill="#333"/><circle cx="129.4" cy="355.0" r="0.65" fill="#111"/><circle cx="96.6" cy="366.9" r="0.55" fill="#333"/><circle cx="113.4" cy="336.5" r="0.35" fill="#222"/><circle cx="135.2" cy="381.1" r="0.65" fill="#666"/><circle cx="115.6" cy="349.2" r="0.55" fill="#444"/><circle cx="93.9" cy="359.0" r="0.8" fill="#666"/><circle cx="133.9" cy="348.8" r="0.35" fill="#333"/><circle cx="98.7" cy="344.9" r="0.35" fill="#111"/><circle cx="91.8" cy="364.8" r="0.95" fill="#444"/><circle cx="111.9" cy="380.0" r="0.35" fill="#666"/><circle cx="119.0" cy="384.1" r="0.95" fill="#111"/><circle cx="101.3" cy="365.2" r="0.95" fill="#111"/><circle cx="133.6" cy="370.8" r="0.65" fill="#222"/><circle cx="110.1" cy="343.8" r="0.45" fill="#222"/><circle cx="97.4" cy="385.1" r="0.55" fill="#111"/><circle cx="131.1" cy="383.2" r="0.35" fill="#333"/><circle cx="125.7" cy="372.9" r="0.95" fill="#444"/><circle cx="92.0" cy="343.0" r="0.35" fill="#222"/><circle cx="120.7" cy="351.2" r="0.8" fill="#444"/><circle cx="124.4" cy="341.0" r="0.55" fill="#333"/><circle cx="101.3" cy="342.0" r="0.65" fill="#444"/><circle cx="97.2" cy="348.0" r="0.45" fill="#111"/><circle cx="111.0" cy="383.6" r="0.35" fill="#222"/><circle cx="132.3" cy="347.0" r="0.8" fill="#333"/><circle cx="130.5" cy="342.8" r="0.65" fill="#111"/><circle cx="132.2" cy="355.7" r="0.35" fill="#111"/><circle cx="110.3" cy="353.3" r="0.45" fill="#444"/><circle cx="94.7" cy="354.7" r="0.55" fill="#222"/><circle cx="123.4" cy="344.9" r="0.65" fill="#666"/><circle cx="130.5" cy="358.6" r="0.45" fill="#333"/><circle cx="108.7" cy="348.4" r="0.35" fill="#333"/><circle cx="115.8" cy="351.1" r="0.45" fill="#333"/><circle cx="112.1" cy="352.2" r="0.65" fill="#111"/><circle cx="96.5" cy="362.5" r="0.95" fill="#222"/><circle cx="115.3" cy="379.5" r="0.35" fill="#333"/><circle cx="124.3" cy="386.7" r="0.65" fill="#333"/><circle cx="135.5" cy="384.2" r="0.35" fill="#444"/><circle cx="102.8" cy="382.7" r="0.35" fill="#333"/><circle cx="96.1" cy="369.2" r="0.65" fill="#666"/><circle cx="105.1" cy="342.8" r="0.35" fill="#666"/><circle cx="102.6" cy="354.4" r="0.35" fill="#444"/><circle cx="99.5" cy="365.6" r="0.45" fill="#222"/><circle cx="113.5" cy="347.6" r="0.45" fill="#222"/><circle cx="117.2" cy="379.2" r="0.8" fill="#444"/><circle cx="124.6" cy="344.7" r="0.45" fill="#666"/><circle cx="120.3" cy="368.6" r="0.45" fill="#666"/><circle cx="103.6" cy="335.9" r="0.95" fill="#666"/><circle cx="108.3" cy="373.5" r="0.35" fill="#666"/><circle cx="126.9" cy="353.1" r="0.95" fill="#444"/><circle cx="93.6" cy="357.0" r="0.65" fill="#222"/><circle cx="129.7" cy="349.5" r="0.45" fill="#666"/><circle cx="127.8" cy="354.8" r="0.45" fill="#333"/><circle cx="116.0" cy="380.7" r="0.55" fill="#666"/><circle cx="132.5" cy="386.5" r="0.35" fill="#111"/><circle cx="105.9" cy="348.3" r="0.55" fill="#444"/><circle cx="116.0" cy="382.8" r="0.55" fill="#111"/><circle cx="133.5" cy="361.5" r="0.8" fill="#111"/><circle cx="113.9" cy="363.8" r="0.35" fill="#222"/><circle cx="134.1" cy="347.2" r="0.45" fill="#222"/><circle cx="94.1" cy="348.6" r="0.35" fill="#111"/><circle cx="93.9" cy="372.3" r="0.45" fill="#333"/><circle cx="90.2" cy="367.0" r="0.8" fill="#444"/><circle cx="113.6" cy="372.5" r="0.35" fill="#333"/><circle cx="129.6" cy="373.3" r="0.35" fill="#333"/><circle cx="95.1" cy="361.5" r="0.8" fill="#333"/><polygon points="105.30,324.70 100.00,333.40 105.30,333.40" fill="#ffffff" stroke="#262626" stroke-width="1.0" stroke-linejoin="round"/><polygon points="119.70,324.70 124.80,333.40 119.70,333.40" fill="#ffffff" stroke="#262626" stroke-width="1.0" stroke-linejoin="round"/><line x1="99.20" y1="333.90" x2="125.60" y2="333.90" stroke="#1a1a1a" stroke-width="2.0" stroke-linecap="butt"/><polyline points="102.70,331.00 102.70,368.80 104.40,370.60" fill="none" stroke="#1c1c1c" stroke-width="1.6" stroke-linejoin="round" stroke-linecap="butt"/><polyline points="122.20,331.00 122.20,368.80 120.50,370.60" fill="none" stroke="#1c1c1c" stroke-width="1.6" stroke-linejoin="round" stroke-linecap="butt"/><line x1="102.70" y1="350.00" x2="122.20" y2="350.00" stroke="#1c1c1c" stroke-width="1.4" stroke-linecap="butt"/><line x1="102.70" y1="364.50" x2="122.20" y2="364.50" stroke="#1c1c1c" stroke-width="1.4" stroke-linecap="butt"/><polyline points="112.45,325.50 112.45,356.30 130.00,356.30" fill="none" stroke="#161616" stroke-width="2.3" stroke-linejoin="miter" stroke-linecap="butt"/><line x1="130.00" y1="356.30" x2="139.80" y2="356.30" stroke="#222" stroke-width="1.0" stroke-linecap="butt"/><polyline points="124.80,356.00 142.60,341.20 147.60,341.20" fill="none" stroke="#2a2a2a" stroke-width="0.9" stroke-linejoin="round" stroke-linecap="butt"/><rect x="540.55" y="284.90" width="56.10" height="3.80" rx="0" fill="#d4d4d4" stroke="#262626" stroke-width="1.0"/><rect x="540.25" y="243.80" width="56.90" height="6.10" rx="0.6" fill="#c9c9c9" stroke="#262626" stroke-width="1.1"/><rect x="542.25" y="247.16" width="52.90" height="1.83" rx="0" fill="#ffffff" stroke="none" stroke-width="0"/><line x1="542.25" y1="246.85" x2="595.15" y2="246.85" stroke="#8a8a8a" stroke-width="0.5" stroke-linecap="butt"/><circle cx="547.65" cy="245.81" r="0.75" fill="#333"/><circle cx="590.61" cy="245.81" r="0.75" fill="#333"/><rect x="563.90" y="249.90" width="10.00" height="14.70" rx="0" fill="#f4f4f4" stroke="#262626" stroke-width="1.1"/><line x1="567.30" y1="249.90" x2="567.30" y2="264.60" stroke="#444" stroke-width="0.7" stroke-linecap="butt"/><line x1="568.90" y1="249.90" x2="568.90" y2="264.60" stroke="#777" stroke-width="0.6" stroke-linecap="butt"/><line x1="570.70" y1="249.90" x2="570.70" y2="264.60" stroke="#444" stroke-width="0.7" stroke-linecap="butt"/><rect x="568.90" y="250.10" width="1.80" height="14.30" rx="0" fill="#cfcfcf" stroke="none" stroke-width="0"/><path d="M564.70 297.60 L564.70 268.20 Q564.70 264.20 568.70 264.20 L569.20 264.20 Q573.20 264.20 573.20 268.20 L573.20 297.60 Z" fill="#ffffff" stroke="#2a2a2a" stroke-width="1.25" stroke-linejoin="round"/><circle cx="568.95" cy="284.00" r="0.9" fill="#222"/><line x1="558.20" y1="284.00" x2="562.80" y2="284.00" stroke="#1e1e1e" stroke-width="1.7" stroke-linecap="round"/><line x1="575.30" y1="284.00" x2="580.20" y2="284.00" stroke="#1e1e1e" stroke-width="1.7" stroke-linecap="round"/><circle cx="568.95" cy="293.70" r="0.9" fill="#222"/><line x1="558.20" y1="293.70" x2="562.80" y2="293.70" stroke="#1e1e1e" stroke-width="1.7" stroke-linecap="round"/><line x1="575.30" y1="293.70" x2="580.20" y2="293.70" stroke="#1e1e1e" stroke-width="1.7" stroke-linecap="round"/><path d="M565.75 375.7 L566.5 302.3 L571.8 302.3 L572.3 375.7" fill="#ffffff" stroke="#262626" stroke-width="1.2" stroke-linejoin="round"/><polyline points="558.70,375.70 566.40,375.70 568.00,372.90 570.00,378.50 571.60,375.70 577.90,375.70" fill="none" stroke="#222" stroke-width="1.0" stroke-linejoin="round" stroke-linecap="butt"/><line x1="568.80" y1="302.60" x2="568.80" y2="310.00" stroke="#333" stroke-width="0.7" stroke-linecap="butt"/><polygon points="568.80,312.00 567.95,307.50 569.65,307.50" fill="#333"/><line x1="568.80" y1="297.80" x2="568.80" y2="302.00" stroke="#444" stroke-width="0.7" stroke-linecap="butt"/><line x1="551.40" y1="290.20" x2="559.40" y2="290.20" stroke="#5aaee2" stroke-width="1.0" stroke-linecap="butt"/><polygon points="563.40,290.20 558.40,291.30 558.40,289.10" fill="#5aaee2"/><line x1="586.00" y1="290.20" x2="578.60" y2="290.20" stroke="#5aaee2" stroke-width="1.0" stroke-linecap="butt"/><polygon points="574.60,290.20 579.60,289.10 579.60,291.30" fill="#5aaee2"/><line x1="496.00" y1="270.40" x2="547.80" y2="270.40" stroke="#3a88c4" stroke-width="1.2" stroke-linecap="butt"/><polygon points="553.80,270.40 546.80,271.80 546.80,269.00" fill="#3a88c4"/><polyline points="577.60,268.60 592.20,274.20 668.60,274.20" fill="none" stroke="#4da4de" stroke-width="1.0" stroke-linejoin="round" stroke-linecap="butt"/><polygon points="574.20,267.30 579.75,268.19 578.93,270.34" fill="#3a8cc8"/><polygon points="544.75,360.25 565.75,338.60 565.75,360.25" fill="#f1f8fd" stroke="none" stroke-width="0" stroke-linejoin="round"/><line x1="450.00" y1="360.25" x2="565.75" y2="360.25" stroke="#5ab0e6" stroke-width="1.0" stroke-linecap="butt"/><line x1="544.75" y1="360.25" x2="565.75" y2="338.60" stroke="#5ab0e6" stroke-width="1.0" stroke-linecap="butt"/><polygon points="528.60,331.00 532.60,332.00 565.75,357.20 565.75,360.70" fill="#ffffff" stroke="#262626" stroke-width="1.05" stroke-linejoin="round"/><rect x="555.30" y="339.70" width="3.30" height="10.00" rx="0" fill="#b9b9b9" stroke="#555" stroke-width="0.7"/><polygon points="490.50,317.50 565.75,337.00 565.75,340.75 489.50,321.00" fill="#ffffff" stroke="#262626" stroke-width="1.1" stroke-linejoin="round"/><polygon points="477.97,318.48 488.52,321.78 490.08,316.82 479.53,313.52" fill="#ffffff" stroke="#262626" stroke-width="1.1" stroke-linejoin="round"/><path d="M464.0 281.0 L464.0 297.0 Q464.0 298.5 465.5 298.5 L470.4 298.5 Q471.9 298.5 471.9 297.0 L471.9 272.4 Z" fill="#ffffff" stroke="#262626" stroke-width="1.0" stroke-linejoin="round"/><circle cx="467.60" cy="285.60" r="0.75" fill="#222"/><circle cx="467.40" cy="293.80" r="0.75" fill="#222"/><polygon points="477.20,247.60 486.60,249.20 458.60,288.60 448.40,286.60" fill="#ffffff" stroke="none" stroke-width="0" stroke-linejoin="round"/><line x1="485.71" y1="251.12" x2="457.11" y2="290.12" stroke="#2a2a2a" stroke-width="1.05" stroke-linecap="butt"/><line x1="483.85" y1="249.76" x2="455.25" y2="288.76" stroke="#555" stroke-width="0.7" stroke-linecap="butt"/><line x1="482.00" y1="248.40" x2="453.40" y2="287.40" stroke="#1c1c1c" stroke-width="1.3" stroke-linecap="butt"/><line x1="480.31" y1="247.16" x2="451.71" y2="286.16" stroke="#444" stroke-width="0.8" stroke-linecap="butt"/><line x1="478.29" y1="245.68" x2="449.69" y2="284.68" stroke="#2a2a2a" stroke-width="1.05" stroke-linecap="butt"/><polygon points="467.90,245.92 501.30,251.42 502.10,246.58 468.70,241.08" fill="#ffffff" stroke="#262626" stroke-width="0.95" stroke-linejoin="round"/><line x1="470.00" y1="244.60" x2="500.00" y2="249.50" stroke="#777" stroke-width="0.5" stroke-linecap="butt"/><circle cx="471.50" cy="243.40" r="0.6" fill="#333"/><circle cx="498.00" cy="247.80" r="0.6" fill="#333"/><polygon points="434.21,288.57 463.61,293.87 464.39,289.53 434.99,284.23" fill="#ffffff" stroke="#262626" stroke-width="0.95" stroke-linejoin="round"/><line x1="436.50" y1="287.50" x2="462.00" y2="292.10" stroke="#777" stroke-width="0.5" stroke-linecap="butt"/><path d="M463.0 289.6 Q466.2 289.0 466.2 291.8 Q466.0 293.8 463.6 293.6" fill="none" stroke="#222" stroke-width="1.0" stroke-linejoin="round"/><text x="88.6" y="42" font-size="22.5" font-weight="bold" fill="#0d80d0">分体式</text><text x="180.8" y="24.25" font-size="14.04" fill="#1f8ad6">从用料到成品，运输整体设计方案</text><text x="180.6" y="42.03" font-size="12.04" font-weight="500" fill="#141414">最佳用料到数控下料到组合机器人焊接，提高生产效</text><text x="180.6" y="59.03" font-size="12.04" font-weight="500" fill="#141414">率，保证生产质量，降低生产成本和运输成本。</text><text x="255" y="83.4" font-size="8.05" fill="#161616">光板支架角铁</text><text x="255" y="94.8" font-size="8.05" fill="#161616">与套管可拆分</text><text x="217" y="177.71" font-size="8.08" fill="#161616">光板支架与路灯</text><text x="217" y="189.51" font-size="8.08" fill="#161616">灯杆可拆分安装</text><text x="153" y="224.91" font-size="8.08" fill="#161616">灯臂与灯杆可拆分安装</text><text x="156.4" y="346.92" font-size="8.1" fill="#161616">电缆线</text><text x="551.6" y="187.57" font-size="22.7" font-weight="bold" fill="#fab416">传统式</text><text x="521.8" y="210.4" font-size="8.06" fill="#161616">不易包装及运输</text><text x="427.2" y="220.3" font-size="8.05" fill="#161616">光板支架与套</text><text x="427.2" y="230.5" font-size="8.05" fill="#161616">管不可拆分</text><text x="609.4" y="253.4" font-size="8.06" fill="#161616">太阳能光板支架</text><text x="609.4" y="265.3" font-size="8.06" fill="#161616">与灯杆一体安装</text><text x="457.6" y="356.71" font-size="8.08" fill="#161616">灯臂与灯杆不可拆分</text></g>
</svg>
</div>
</body>
</html>
